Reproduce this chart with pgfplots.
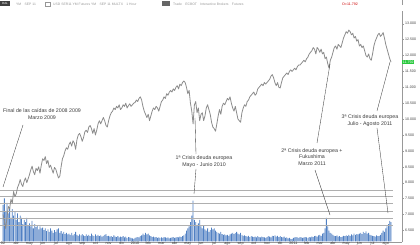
\documentclass[border=0pt]{standalone}
\usepackage{pgfplots}
\pgfplotsset{compat=1.18}
\usepackage{pgfplotstable}
\usepackage{fontspec}
\setmainfont{Liberation Sans}
\definecolor{pricec}{RGB}{140,140,140}
\definecolor{volc}{RGB}{80,128,195}
\definecolor{gridc}{RGB}{175,175,175}
\definecolor{annc}{RGB}{60,60,60}
\definecolor{tagg}{RGB}{40,200,60}
\definecolor{hdr}{RGB}{150,150,150}

\pgfplotstableread{
m p
0.0 7000
0.1 6800
0.2 6560
0.3 6900
0.4 7250
0.5 7180
0.6 7480
0.7 7350
0.8 7720
0.9 7560
1.0 7650
1.1 7850
1.2 7950
1.3 8100
1.4 7950
1.5 7880
1.6 8050
1.7 8150
1.8 8000
1.9 8120
2.0 8250
2.1 8400
2.2 8520
2.3 8350
2.4 8250
2.5 8450
2.6 8380
2.7 8500
2.8 8300
2.9 8550
3.0 8750
3.1 8700
3.2 8820
3.3 8600
3.4 8700
3.5 8480
3.6 8550
3.7 8420
3.8 8300
3.9 8480
4.0 8420
4.1 8280
4.2 8150
4.3 8200
4.4 8500
4.5 8750
4.6 8850
4.7 9000
4.8 9100
4.9 9050
5.0 9200
5.1 9280
5.2 9150
5.3 9320
5.4 9250
5.5 9050
5.6 9350
5.7 9500
5.8 9550
5.9 9450
6.0 9300
6.1 9420
6.2 9600
6.3 9650
6.4 9580
6.5 9750
6.6 9800
6.7 9700
6.8 9550
6.9 9700
7.0 9500
7.1 9650
7.2 9850
7.3 9950
7.4 9850
7.5 9950
7.6 10050
7.7 9950
7.8 9800
7.9 9750
8.0 9950
8.1 10100
8.2 10200
8.3 10250
8.4 10350
8.5 10300
8.6 10400
8.7 10350
8.8 10450
8.9 10300
9.0 10350
9.1 10450
9.2 10400
9.3 10500
9.4 10350
9.5 10420
9.6 10480
9.7 10400
9.8 10450
9.9 10500
10.0 10520
10.1 10600
10.2 10550
10.3 10650
10.4 10700
10.5 10600
10.6 10400
10.7 10250
10.8 10150
10.9 10050
11.0 10150
11.1 9950
11.2 10100
11.3 10250
11.4 10350
11.5 10300
11.6 10400
11.7 10350
11.8 10250
11.9 10400
12.0 10550
12.1 10600
12.2 10700
12.3 10650
12.4 10800
12.5 10750
12.6 10850
12.7 10900
12.8 10850
12.9 10950
13.0 10900
13.1 11000
13.2 11050
13.3 10950
13.4 11100
13.5 11050
13.6 11150
13.7 11200
13.8 11150
13.9 11000
14.0 10800
14.1 10900
14.2 10500
14.3 10250
14.4 9850
14.5 10450
14.6 10550
14.7 10200
14.8 10350
14.9 9950
15.0 10150
15.1 10200
15.2 9950
15.3 10100
15.4 10350
15.5 10450
15.6 10300
15.7 10150
15.8 9900
15.9 9750
16.0 9700
16.1 9620
16.2 9850
16.3 10100
16.4 10300
16.5 10150
16.6 10400
16.7 10500
16.8 10450
16.9 10550
17.0 10650
17.1 10600
17.2 10700
17.3 10500
17.4 10350
17.5 10250
17.6 10400
17.7 10200
17.8 10000
17.9 9950
18.0 9900
18.1 10200
18.2 10350
18.3 10450
18.4 10400
18.5 10550
18.6 10600
18.7 10700
18.8 10750
18.9 10800
19.0 10850
19.1 10750
19.2 10800
19.3 10950
19.4 11000
19.5 11050
19.6 11100
19.7 11050
19.8 11150
19.9 11100
20.0 11150
20.1 11200
20.2 11250
20.3 11350
20.4 11400
20.5 11300
20.6 11150
20.7 11050
20.8 11150
20.9 11000
21.0 10980
21.1 11150
21.2 11300
21.3 11350
21.4 11400
21.5 11450
21.6 11400
21.7 11500
21.8 11550
21.9 11500
22.0 11550
22.1 11600
22.2 11550
22.3 11650
22.4 11700
22.5 11700
22.6 11750
22.7 11800
22.8 11850
22.9 11800
23.0 11900
23.1 11950
23.2 12050
23.3 12100
23.4 12150
23.5 12250
23.6 12200
23.7 12050
23.8 12250
23.9 12200
24.0 12100
24.1 12200
24.2 12050
24.3 12100
24.4 11900
24.5 11950
24.6 11750
24.7 11600
24.8 11850
24.9 11950
25.0 12100
25.1 12250
25.2 12300
25.3 12200
25.4 12350
25.5 12300
25.6 12250
25.7 12400
25.8 12550
25.9 12650
26.0 12750
26.1 12700
26.2 12800
26.3 12750
26.4 12650
26.5 12700
26.6 12550
26.7 12600
26.8 12450
26.9 12500
27.0 12300
27.1 12350
27.2 12250
27.3 12300
27.4 12150
27.5 12000
27.6 11950
27.7 12050
27.8 11900
27.9 11850
28.0 12050
28.1 12300
28.2 12450
28.3 12550
28.4 12650
28.5 12700
28.6 12600
28.7 12650
28.8 12720
28.9 12550
29.0 12350
29.1 12200
29.2 12050
29.3 11900
29.4 11792
}\pricetable

\pgfplotstableread{
m v
0.0 85
0.1 100
0.2 70
0.3 90
0.4 65
0.5 80
0.6 55
0.7 75
0.8 60
0.9 70
1.0 50
1.1 65
1.2 45
1.3 60
1.4 55
1.5 40
1.6 50
1.7 45
1.8 55
1.9 38
2.0 42
2.1 35
2.2 48
2.3 30
2.4 40
2.5 33
2.6 38
2.7 28
2.8 35
2.9 30
3.0 32
3.1 26
3.2 30
3.3 24
3.4 28
3.5 22
3.6 30
3.7 25
3.8 20
3.9 26
4.0 22
4.1 28
4.2 30
4.3 20
4.4 24
4.5 18
4.6 22
4.7 17
4.8 20
4.9 16
5.0 18
5.1 15
5.2 20
5.3 14
5.4 17
5.5 22
5.6 15
5.7 13
5.8 16
5.9 14
6.0 17
6.1 14
6.2 12
6.3 16
6.4 13
6.5 15
6.6 12
6.7 18
6.8 14
6.9 12
7.0 16
7.1 13
7.2 15
7.3 12
7.4 14
7.5 11
7.6 13
7.7 15
7.8 17
7.9 12
8.0 13
8.1 11
8.2 12
8.3 10
8.4 14
8.5 11
8.6 10
8.7 12
8.8 9
8.9 11
9.0 10
9.1 12
9.2 9
9.3 11
9.4 8
9.5 10
9.6 9
9.7 8
9.8 7
9.9 6
10.0 8
10.1 9
10.2 10
10.3 9
10.4 12
10.5 14
10.6 18
10.7 15
10.8 20
10.9 16
11.0 18
11.1 14
11.2 12
11.3 10
11.4 11
11.5 9
11.6 10
11.7 8
11.8 9
11.9 8
12.0 9
12.1 8
12.2 10
12.3 9
12.4 8
12.5 9
12.6 7
12.7 8
12.8 9
12.9 10
13.0 8
13.1 9
13.2 10
13.3 9
13.4 11
13.5 10
13.6 12
13.7 14
13.8 18
13.9 25
14.0 30
14.1 35
14.2 45
14.3 60
14.4 95
14.5 50
14.6 45
14.7 38
14.8 42
14.9 50
15.0 35
15.1 30
15.2 38
15.3 28
15.4 25
15.5 30
15.6 22
15.7 26
15.8 32
15.9 28
16.0 30
16.1 25
16.2 22
16.3 20
16.4 18
16.5 22
16.6 17
16.7 15
16.8 16
16.9 14
17.0 15
17.1 13
17.2 16
17.3 18
17.4 20
17.5 17
17.6 19
17.7 22
17.8 18
17.9 16
18.0 20
18.1 15
18.2 13
18.3 14
18.4 12
18.5 11
18.6 13
18.7 10
18.8 12
18.9 11
19.0 10
19.1 11
19.2 9
19.3 12
19.4 10
19.5 9
19.6 11
19.7 10
19.8 9
19.9 8
20.0 10
20.1 12
20.2 11
20.3 9
20.4 13
20.5 12
20.6 14
20.7 11
20.8 13
20.9 10
21.0 12
21.1 10
21.2 9
21.3 11
21.4 8
21.5 9
21.6 7
21.7 8
21.8 6
21.9 5
22.0 8
22.1 9
22.2 10
22.3 9
22.4 8
22.5 10
22.6 9
22.7 8
22.8 9
22.9 10
23.0 9
23.1 8
23.2 10
23.3 9
23.4 11
23.5 10
23.6 12
23.7 13
23.8 11
23.9 14
24.0 15
24.1 13
24.2 18
24.3 20
24.4 30
24.5 55
24.6 35
24.7 25
24.8 20
24.9 18
25.0 15
25.1 13
25.2 12
25.3 14
25.4 11
25.5 12
25.6 10
25.7 11
25.8 13
25.9 12
26.0 14
26.1 12
26.2 15
26.3 13
26.4 16
26.5 14
26.6 18
26.7 15
26.8 17
26.9 16
27.0 18
27.1 20
27.2 17
27.3 22
27.4 19
27.5 23
27.6 18
27.7 20
27.8 15
27.9 14
28.0 13
28.1 12
28.2 11
28.3 14
28.4 12
28.5 13
28.6 15
28.7 20
28.8 25
28.9 22
29.0 30
29.1 35
29.2 40
29.3 48
29.4 45
}\voltable

\begin{document}
\begin{tikzpicture}[x=1bp,y=1bp]
\useasboundingbox (0,0) rectangle (420,245);

% volume pane
\begin{axis}[
  at={(0,8.5)}, anchor=south west,
  scale only axis, width=402bp, height=231.5bp,
  xmin=-0.23, xmax=30.23, ymin=0, ymax=540,
  hide axis, clip=true]
\addplot[ybar, bar width=0.8bp, fill=volc, draw=none] table[x=m,y=v] {\voltable};
\end{axis}

% price pane
\begin{axis}[
  at={(0,8.5)}, anchor=south west,
  scale only axis, width=402bp, height=231.5bp,
  xmin=-0.23, xmax=30.23, ymin=6125, ymax=13406,
  scaled x ticks=false, scaled y ticks=false,
  axis x line*=bottom, axis y line*=right,
  axis line style={draw=gray!80, line width=0.4bp},
  ytick={6500,7000,...,13000},
  yticklabels={6.500,7.000,7.500,8.000,8.500,9.000,9.500,10.000,10.500,11.000,11.500,12.000,12.500,13.000},
  yticklabel style={font=\fontsize{3.6}{4}\selectfont, text=black!75, inner sep=0.5bp, xshift=0.5bp},
  ytick style={draw=gray!80, line width=0.3bp},
  tick align=outside, major tick length=2bp,
  xtick={0,...,29},
  xticklabels={02,abr,may,jun,jul,ago,sep,oct,nov,dic,2010,feb,mar,abr,may,jun,jul,ago,sep,oct,nov,dic,2011,feb,mar,abr,may,jun,jul,ago},
  xticklabel style={font=\fontsize{3.7}{4}\selectfont, text=black!80, inner sep=0bp, anchor=base, yshift=-0.2bp},
  xtick style={draw=none},
  clip=false]
\addplot[gridc, line width=0.35bp] coordinates {(-0.23,7750) (29.55,7750)};
\addplot[gridc, line width=0.35bp] coordinates {(-0.23,7560) (29.55,7560)};
\addplot[gridc, line width=0.35bp] coordinates {(-0.23,7340) (29.55,7340)};
\addplot[gridc, line width=0.35bp] coordinates {(-0.23,7090) (29.55,7090)};
\addplot[gridc, line width=0.35bp] coordinates {(-0.23,6870) (29.55,6870)};
\addplot[gridc, line width=0.35bp] coordinates {(-0.23,6650) (29.55,6650)};
\addplot[pricec, line width=0.8bp, line join=round] table[x=m,y=p] {\pricetable};
\node[fill=tagg, text=white, inner sep=0.6bp, anchor=west, font=\fontsize{3.6}{4}\selectfont] at (axis cs:30.23,11792) {11.792};
\end{axis}

% right axis line up to the top
\draw[gray!80, line width=0.4bp] (402,240) -- (402,245);

% header
\fill[black!75] (0,238.5) rectangle (10,244);
\node[text=white, font=\fontsize{3}{3}\selectfont, inner sep=0] at (5,241.2) {DAL};
\node[text=hdr, anchor=west, font=\fontsize{3.4}{4}\selectfont, inner sep=0] at (16,240.5) {YM\quad SEP 11};
\draw[hdr, line width=0.3bp] (45,238.8) rectangle (50,243);
\node[text=hdr, anchor=west, font=\fontsize{3.4}{4}\selectfont, inner sep=0] at (53,240.5) {USD SER11 YM Futures YM\quad SEP 11 MULTX\quad 1 Hour};
\fill[black!60] (162,238.5) rectangle (170,243.5);
\node[text=hdr, anchor=west, font=\fontsize{3.4}{4}\selectfont, inner sep=0] at (173,240.5) {Trade\quad ECBOT\quad Interactive Brokers\quad Futures};
\node[text=red!80!black, font=\fontsize{3.6}{4}\selectfont, inner sep=0] at (350,240.3) {O=11.792};

% annotations
\begin{scope}[font=\fontsize{5.3}{6.7}\selectfont, text=annc]
\node[align=center, inner sep=0] at (42,131) {Final de las caídas de 2008 2009\\Marzo 2009};
\draw[annc, line width=0.35bp] (23,120) -- (3,58);

\node[align=center, inner sep=0] at (204,83.5) {1ª Crisis deuda europea\\Mayo - Junio 2010};
\draw[annc, line width=0.35bp] (195,127) -- (196,91);
\draw[annc, line width=0.35bp] (196,76) -- (194,51);

\node[align=center, inner sep=0] at (312,88) {2ª Crisis deuda europea +\\Fukushima\\Marzo 2011};
\draw[annc, line width=0.35bp] (317,102) -- (330,181);
\draw[annc, line width=0.35bp] (315,75) -- (330,30);

\node[align=center, inner sep=0] at (370,124.5) {3ª Crisis deuda europea\\Julio - Agosto 2011};
\draw[annc, line width=0.35bp] (377,134) -- (390,183);
\draw[annc, line width=0.35bp] (377,117) -- (388,32);
\end{scope}
\end{tikzpicture}
\end{document}
